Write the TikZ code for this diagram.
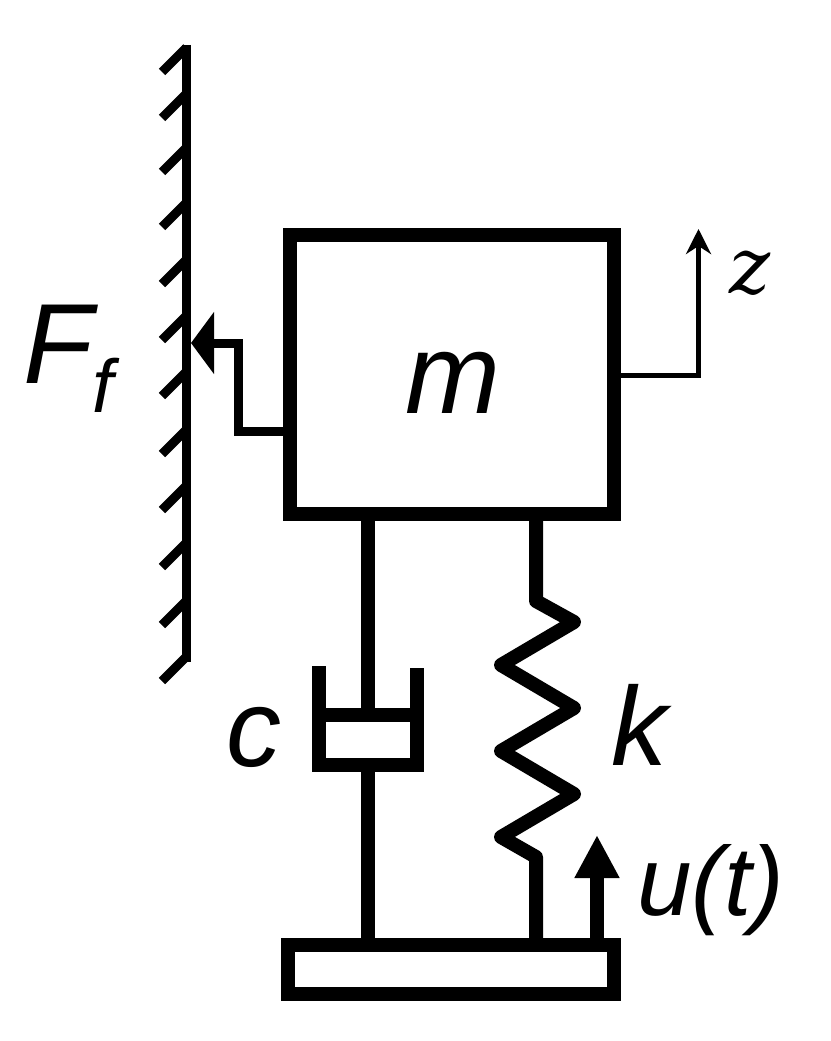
\documentclass[tikz,border=0pt]{standalone}
\usepackage{fontspec}
\setmainfont{Liberation Sans}
\newfontfamily\zfont{DejaVu Serif}
\usepackage{tikz}
\usetikzlibrary{arrows.meta}
\usetikzlibrary{positioning}
\tikzset{
	rod/.style={line width=14pt, line join=miter},
	block/.style={draw, line width=14pt, inner sep=0pt},
	wallline/.style={line width=9pt},
	label/.style={inner sep=0pt, anchor=base, font=\itshape},
}
\begin{document}
\begin{tikzpicture}[x=1pt,y=-1pt]
		\useasboundingbox (0,0) rectangle (830,1041);
		%%nodes
		\node[block, minimum width=324pt, minimum height=279pt] (mass) at (452,374.5) {};
		\node[block, minimum width=326pt, minimum height=49pt] (base) at (451,969.5) {};
		\node[label, font=\itshape\fontsize{114}{114}\selectfont] (mlabel) at (453,413) {m};
		\node[label, font=\itshape\fontsize{114}{114}\selectfont] (Flabel) at (58,383) {F};
		\node[label, font=\itshape\fontsize{75}{75}\selectfont] (flabel) at (103,412) {f};
		\node[label, font=\itshape\fontsize{110}{110}\selectfont] (clabel) at (254,766) {c};
		\node[label, font=\itshape\fontsize{112}{112}\selectfont] (klabel) at (639,765) {k};
		\node[label, font=\itshape\fontsize{98}{98}\selectfont] (ulabel) at (711,915) {u(t)};
		\node[label, font=\zfont\itshape\fontsize{78}{78}\selectfont] (zlabel) at (750,293) {z};
		%%wall
		\coordinate (walltop) at (186.5,45);
		\coordinate (wallend) at (186.5,662);
		\draw[wallline] (walltop) -- (wallend);
		\foreach \y in {72,118,172,227,284,340,396,454,510,567,625,681}
			\draw[wallline] (162,\y) -- (186.5,\y-24.5);
		%%friction
		\coordinate (Fleft) at (283,431);
		\coordinate (Fbend) at (238,431);
		\coordinate (Ftip) at (191,343);
		\draw[-{Triangle[length=23pt,width=61pt]}, line width=9pt] (Fleft) -- (Fbend) |- (Ftip);
		%%displacement
		\coordinate (zstart) at (621,375);
		\coordinate (zbend) at (698.5,375);
		\coordinate (ztip) at (698.5,229);
		\draw[-{Stealth[length=25pt,width=25pt,inset=8pt]}, line width=5pt] (zstart) -- (zbend) -- (ztip);
		%%damper
		\coordinate (rodtop) at (368,521);
		\coordinate (pistonc) at (368,715);
		\coordinate (cupbottom) at (368,772);
		\coordinate (rodbottom) at (368,938);
		\draw[rod] (rodtop) -- (pistonc);
		\draw[rod] (319,715) -- (417,715);
		\draw[rod] (319,666) -- (319,765) -- (417,765) -- (417,668);
		\draw[rod] (cupbottom) -- (rodbottom);
		%%spring
		\coordinate (springtop) at (536,521);
		\coordinate (springbottom) at (536,938);
		\draw[rod, line join=round] (springtop) -- (536,601) -- (574,622) -- (501,665) -- (574,708) -- (501,751) -- (574,794) -- (501,837) -- (536,857) -- (springbottom);
		%%input
		\coordinate (ustart) at (597,938);
		\coordinate (utip) at (597,835);
		\draw[-{Triangle[length=43pt,width=42pt]}, rod] (ustart) -- (utip);
	\end{tikzpicture}
\end{document}
